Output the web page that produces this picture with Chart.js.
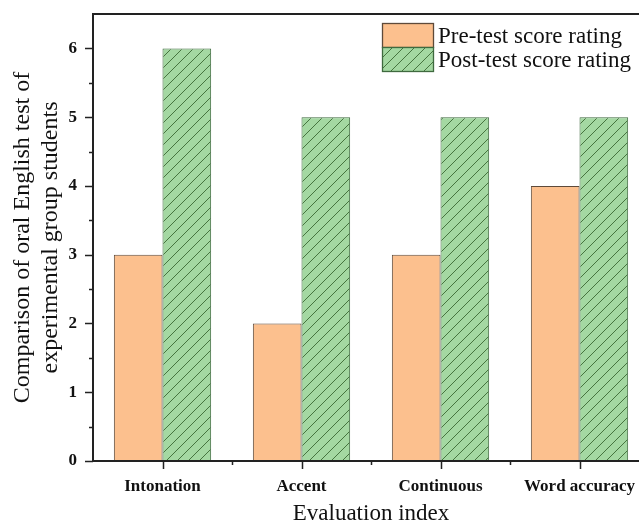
<!DOCTYPE html>
<html>
<head>
<meta charset="utf-8">
<script src="https://cdn.jsdelivr.net/npm/chart.js@4"></script>
<style>
  html, body { margin: 0; padding: 0; background: #fff; overflow: hidden; }
  #wrap { width: 651px; height: 529px; }
</style>
</head>
<body>
<div id="wrap"><canvas id="myChart"></canvas></div>
<script>
// datos del grafico
const categorias = ["Intonation", "Accent", "Continuous", "Word accuracy"];
const preTest = [3, 2, 3, 4];
const postTest = [6, 5, 5, 5];
const etiquetas = ["Pre-test score rating", "Post-test score rating"];

const serif = "'Liberation Serif', 'Times New Roman', serif";

// patron rayado para la serie verde
function rayado() {
    const c = document.createElement("canvas");
    c.width = 11; c.height = 11;
    const g = c.getContext("2d");
    g.fillStyle = "#a4d8a2";
    g.fillRect(0, 0, 11, 11);
    g.strokeStyle = "#46743f";
    g.lineWidth = 1;
    g.beginPath();
    g.moveTo(-1, 12); g.lineTo(12, -1);
    g.moveTo(-6, 6); g.lineTo(6, -6);
    g.moveTo(5, 17); g.lineTo(17, 5);
    g.stroke();
    return g.createPattern(c, "repeat");
}
const verde = rayado();

// marco, marcas de los ejes y leyenda
const extras = {
    id: "extras",
    afterDraw(chart) {
        const ctx = chart.ctx;
        const a = chart.chartArea;
        const x = chart.scales.x, y = chart.scales.y;
        ctx.save();
        ctx.strokeStyle = "#222";
        ctx.lineWidth = 2;
        ctx.strokeRect(a.left, a.top, a.right - a.left, a.bottom - a.top);
        ctx.lineWidth = 1.5;
        ctx.beginPath();
        for (let v = 0; v <= 6.001; v += 0.5) {
            const py = Math.round(y.getPixelForValue(v)) + 0.5;
            const len = (v % 1 === 0) ? 8 : 4;
            ctx.moveTo(a.left, py); ctx.lineTo(a.left - len, py);
        }
        categorias.forEach((c, i) => {
            const px = Math.round(x.getPixelForValue(i)) + 0.5;
            ctx.moveTo(px, a.bottom); ctx.lineTo(px, a.bottom + 8);
            if (i > 0) {
                const mx = Math.round((x.getPixelForValue(i) + x.getPixelForValue(i - 1)) / 2) + 0.5;
                ctx.moveTo(mx, a.bottom); ctx.lineTo(mx, a.bottom + 4);
            }
        });
        ctx.stroke();

        // leyenda
        const lx = 382, ly = 23, bw = 51, bh = 24;
        chart.data.datasets.forEach((ds, i) => {
            const top = ly + i * bh;
            ctx.fillStyle = ds.backgroundColor;
            ctx.fillRect(lx, top, bw, bh);
            ctx.lineWidth = 1.3;
            ctx.strokeStyle = ds.borderColor;
            ctx.strokeRect(lx + 0.5, top + 0.5, bw, bh);
            ctx.fillStyle = "#111";
            ctx.font = "23px " + serif;
            ctx.textBaseline = "middle";
            ctx.textAlign = "left";
            ctx.fillText(ds.label, lx + bw + 5, top + bh / 2 + 2);
        });
        ctx.restore();
    }
};

new Chart(document.getElementById("myChart"), {
    type: "bar",
    data: {
        labels: categorias,
        datasets: [
            {
                label: etiquetas[0],
                data: preTest,
                backgroundColor: "#fcc08e",
                borderColor: "#5e4a3a",
                borderWidth: 1
            },
            {
                label: etiquetas[1],
                data: postTest,
                backgroundColor: verde,
                borderColor: "#3f6a3f",
                borderWidth: 1
            }
        ]
    },
    options: {
        responsive: true,
        maintainAspectRatio: false,
        animation: false,
        layout: { autoPadding: false, padding: { top: 14, right: 2, left: 0, bottom: 0 } },
        plugins: {
            legend: { display: false },
            tooltip: { enabled: false }
        },
        datasets: { bar: { categoryPercentage: 0.7, barPercentage: 1 } },
        scales: {
            x: {
                grid: { display: false, drawTicks: false },
                border: { display: false },
                ticks: {
                    color: "#111",
                    padding: 15,
                    font: { family: serif, size: 17, weight: "bold" }
                },
                title: {
                    display: true,
                    text: "Evaluation index",
                    color: "#111",
                    padding: { top: 4, bottom: 1 },
                    font: { family: serif, size: 23 }
                },
                afterFit(s) { s.height = 68; }
            },
            y: {
                min: 0,
                max: 6.5,
                grid: { display: false, drawTicks: false },
                border: { display: false },
                ticks: {
                    stepSize: 1,
                    color: "#111",
                    padding: 16,
                    font: { family: serif, size: 17, weight: "bold" },
                    callback: v => (v % 1 === 0 ? v : "")
                },
                title: {
                    display: true,
                    text: ["Comparison of oral English test of", "experimental group students"],
                    color: "#111",
                    padding: { top: 8, bottom: 9 },
                    font: { family: serif, size: 24, lineHeight: 1.2 }
                },
                afterFit(s) { s.width = 93; s.paddingTop = 0; s.paddingBottom = 0; }
            }
        }
    },
    plugins: [extras]
});
</script>
</body>
</html>
